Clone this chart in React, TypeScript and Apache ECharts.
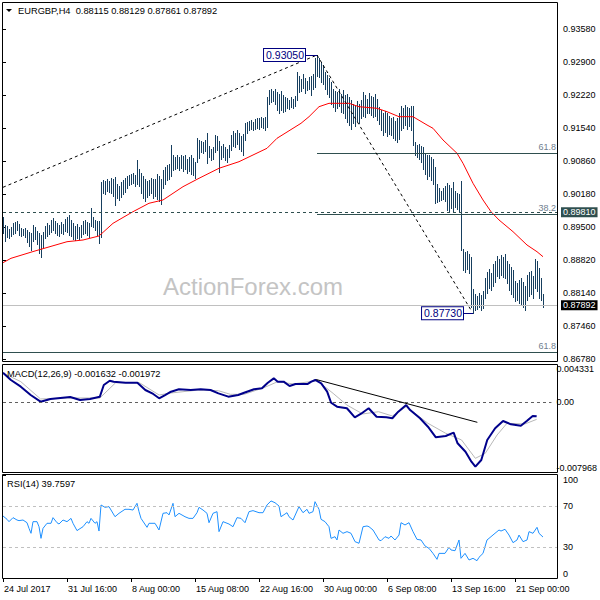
import { useEffect, useRef } from "react";
import * as echarts from "echarts";

const FONT = "'Liberation Sans', Arial, sans-serif";

// ---- price bars (H4), index 0..270 ----
const highs = [
  0.8972, 0.8955, 0.8952, 0.8946, 0.8950, 0.8958, 0.8961, 0.8962, 0.8956, 0.8948,
  0.8946, 0.8949, 0.8944, 0.8940, 0.8938, 0.8954, 0.8950, 0.8942, 0.8938, 0.8934,
  0.8940, 0.8952, 0.8958, 0.8955, 0.8966, 0.8969, 0.8962, 0.8958, 0.8954, 0.8960,
  0.8956, 0.8968, 0.8972, 0.8975, 0.8965, 0.8958, 0.8952, 0.8956, 0.8950, 0.8955,
  0.8962, 0.8966, 0.8960, 0.8958, 0.8990, 0.8972, 0.8966, 0.8964, 0.8962, 0.9044,
  0.9048, 0.9046, 0.9050, 0.9045, 0.9052, 0.9049, 0.9053, 0.9040, 0.9036, 0.9043,
  0.9048, 0.9052, 0.9056, 0.9058, 0.9060, 0.9062, 0.9058, 0.9088, 0.9070, 0.9062,
  0.9055, 0.9050, 0.9045, 0.9048, 0.9052, 0.9049, 0.9050, 0.9060, 0.9055, 0.9050,
  0.9068, 0.9075, 0.9078, 0.9080, 0.9120, 0.9100, 0.9095, 0.9098, 0.9094, 0.9100,
  0.9096, 0.9098, 0.9090, 0.9094, 0.9098, 0.9092, 0.9085, 0.9135, 0.9130, 0.9128,
  0.9126, 0.9130, 0.9145, 0.9118, 0.9112, 0.9115, 0.9140, 0.9138, 0.9128, 0.9118,
  0.9122, 0.9116, 0.9112, 0.9120, 0.9140, 0.9148, 0.9145, 0.9150, 0.9145, 0.9138,
  0.9142, 0.9165, 0.9168, 0.9170, 0.9172, 0.9168, 0.9174, 0.9176, 0.9175, 0.9178,
  0.9176, 0.9178, 0.9218, 0.9232, 0.9236, 0.9230, 0.9234, 0.9228, 0.9225, 0.9230,
  0.9222, 0.9218, 0.9216, 0.9212, 0.9218, 0.9214, 0.9220, 0.9270, 0.9262, 0.9255,
  0.9266, 0.9258, 0.9252, 0.9260, 0.9262, 0.9265, 0.9298, 0.9305, 0.9298, 0.9290,
  0.9285, 0.9270, 0.9264, 0.9258, 0.9250, 0.9235, 0.9230, 0.9228, 0.9236, 0.9225,
  0.9232, 0.9222, 0.9225, 0.9218, 0.9212, 0.9205, 0.9200, 0.9210, 0.9205, 0.9212,
  0.9228, 0.9222, 0.9215, 0.9226, 0.9220, 0.9218, 0.9224, 0.9215, 0.9198, 0.9192,
  0.9185, 0.9190, 0.9186, 0.9180, 0.9175, 0.9178, 0.9170, 0.9176, 0.9185, 0.9200,
  0.9196, 0.9202, 0.9198, 0.9196, 0.9200, 0.9200, 0.9125, 0.9120, 0.9122, 0.9118,
  0.9115, 0.9102, 0.9100, 0.9098, 0.9094, 0.9090, 0.9075, 0.9040, 0.9030, 0.9025,
  0.9030, 0.9035, 0.9042, 0.9038, 0.9030, 0.9044, 0.9025, 0.9020, 0.9018, 0.9045,
  0.8905, 0.8900, 0.8902, 0.8895, 0.8888, 0.8822, 0.8812, 0.8808, 0.8815, 0.8810,
  0.8818, 0.8845, 0.8858, 0.8865, 0.8855, 0.8875, 0.8880, 0.8890, 0.8885, 0.8892,
  0.8888, 0.8894, 0.8880, 0.8875, 0.8868, 0.8862, 0.8840, 0.8835, 0.8842, 0.8845,
  0.8838, 0.8830, 0.8852, 0.8858, 0.8860, 0.8850, 0.8885, 0.8880, 0.8866, 0.8845,
  0.88129,
];
const lows = [
  0.8939, 0.8921, 0.8930, 0.8928, 0.8932, 0.8936, 0.8938, 0.8944, 0.8934, 0.8932,
  0.8934, 0.8931, 0.8920, 0.8912, 0.8903, 0.8922, 0.8925, 0.8915, 0.8898, 0.8889,
  0.8910, 0.8928, 0.8932, 0.8936, 0.8940, 0.8944, 0.8938, 0.8935, 0.8932, 0.8938,
  0.8936, 0.8942, 0.8940, 0.8935, 0.8932, 0.8926, 0.8924, 0.8928, 0.8925, 0.8930,
  0.8936, 0.8938, 0.8934, 0.8930, 0.8952, 0.8950, 0.8944, 0.8935, 0.8918, 0.8930,
  0.9020, 0.9018, 0.9025, 0.9022, 0.9020, 0.9015, 0.8996, 0.9010, 0.9006, 0.9012,
  0.9018, 0.9022, 0.9030, 0.9038, 0.9040, 0.9042, 0.9036, 0.9040, 0.9035, 0.9020,
  0.9010, 0.9005, 0.9012, 0.9016, 0.9020, 0.9010, 0.9015, 0.9008, 0.9005, 0.8998,
  0.9030, 0.9040, 0.9048, 0.9050, 0.9055, 0.9068, 0.9070, 0.9072, 0.9068, 0.9072,
  0.9066, 0.9070, 0.9062, 0.9066, 0.9060, 0.9058, 0.9052, 0.9085, 0.9092, 0.9105,
  0.9104, 0.9108, 0.9082, 0.9095, 0.9088, 0.9090, 0.9105, 0.9110, 0.9064, 0.9090,
  0.9095, 0.9088, 0.9085, 0.9094, 0.9110, 0.9118, 0.9115, 0.9122, 0.9112, 0.9108,
  0.9100, 0.9130, 0.9145, 0.9150, 0.9152, 0.9150, 0.9152, 0.9155, 0.9152, 0.9156,
  0.9155, 0.9150, 0.9156, 0.9205, 0.9208, 0.9210, 0.9204, 0.9192, 0.9185, 0.9192,
  0.9188, 0.9190, 0.9196, 0.9194, 0.9198, 0.9195, 0.9200, 0.9212, 0.9228, 0.9230,
  0.9238, 0.9226, 0.9232, 0.9236, 0.9222, 0.9235, 0.9240, 0.9262, 0.9260, 0.9250,
  0.9245, 0.9235, 0.9225, 0.9218, 0.9205, 0.9198, 0.9190, 0.9195, 0.9200, 0.9188,
  0.9186, 0.9175, 0.9168, 0.9160, 0.9152, 0.9164, 0.9158, 0.9170, 0.9165, 0.9175,
  0.9180, 0.9178, 0.9185, 0.9186, 0.9182, 0.9178, 0.9180, 0.9172, 0.9162, 0.9150,
  0.9140, 0.9146, 0.9138, 0.9142, 0.9140, 0.9135, 0.9130, 0.9125, 0.9132, 0.9150,
  0.9155, 0.9160, 0.9152, 0.9158, 0.9150, 0.9120, 0.9098, 0.9095, 0.9090, 0.9085,
  0.9070, 0.9060, 0.9050, 0.9055, 0.9048, 0.9040, 0.9000, 0.9002, 0.9004, 0.9006,
  0.9008, 0.9004, 0.8985, 0.8984, 0.8990, 0.8984, 0.8992, 0.8988, 0.8982, 0.8903,
  0.8862, 0.8858, 0.8865, 0.8855, 0.8785, 0.8773, 0.8780, 0.8782, 0.8786, 0.8780,
  0.8784, 0.8805, 0.8815, 0.8825, 0.8820, 0.8830, 0.8838, 0.8850, 0.8845, 0.8852,
  0.8848, 0.8845, 0.8835, 0.8820, 0.8812, 0.8806, 0.8798, 0.8800, 0.8795, 0.8792,
  0.8786, 0.8779, 0.8800, 0.8808, 0.8812, 0.8805, 0.8825, 0.8818, 0.8805, 0.8800,
  0.87861,
];

// moving average (red) read at bar indices
const maIdx = [0, 4, 15, 32, 40, 48, 55, 65, 73, 80, 90, 98, 108, 118, 125, 132, 137, 145, 149, 153, 158, 163, 173, 178, 187, 192, 198, 205, 212, 215, 220, 227, 230, 235, 240, 244, 248, 255, 262, 267, 270];
const maVal = [0.88771, 0.88861, 0.89000, 0.89203, 0.89238, 0.89321, 0.89582, 0.89822, 0.89995, 0.90063, 0.90337, 0.90510, 0.90716, 0.90852, 0.90990, 0.91128, 0.91334, 0.91540, 0.91643, 0.91779, 0.91985, 0.92055, 0.92055, 0.91985, 0.91952, 0.91882, 0.91779, 0.91779, 0.91608, 0.91540, 0.91299, 0.91025, 0.90819, 0.90407, 0.90063, 0.89822, 0.89651, 0.89410, 0.89135, 0.88997, 0.88894];

// MACD main line and signal line
const macdIdx = [0, 4, 9, 14, 19, 24, 29, 34, 39, 44, 49, 51, 54, 56, 62, 68, 72, 76, 79, 82, 85, 89, 95, 100, 105, 109, 114, 119, 122, 127, 131, 134, 137, 139, 142, 145, 148, 154, 156, 158, 161, 164, 166, 169, 174, 178, 181, 185, 189, 194, 197, 200, 204, 206, 211, 215, 219, 224, 228, 230, 234, 237, 239, 242, 245, 249, 253, 257, 262, 265, 268, 270];
const macdVal = [0.00334, 0.00251, 0.00175, 0.00080, 0.00004, 0.00035, 0.00046, 0.00057, 0.00023, 0.00035, 0.00061, 0.00194, 0.00243, 0.00232, 0.00220, 0.00220, 0.00137, 0.00092, 0.00043, 0.00080, 0.00118, 0.00145, 0.00137, 0.00145, 0.00137, 0.00099, 0.00061, 0.00080, 0.00106, 0.00145, 0.00156, 0.00220, 0.00270, 0.00232, 0.00232, 0.00183, 0.00205, 0.00205, 0.00232, 0.00251, 0.00213, 0.00118, -0.00008, -0.00053, -0.00071, -0.00174, -0.00136, -0.00071, -0.00167, -0.00174, -0.00185, -0.00110, -0.00034, -0.00091, -0.00185, -0.00281, -0.00402, -0.00387, -0.00349, -0.00470, -0.00566, -0.00680, -0.00736, -0.00660, -0.00432, -0.00299, -0.00216, -0.00254, -0.00270, -0.00216, -0.00159, -0.001632];
const sigIdx = [0, 9, 19, 32, 49, 57, 69, 79, 85, 99, 109, 115, 122, 132, 139, 147, 149, 159, 167, 174, 182, 190, 197, 204, 215, 224, 232, 239, 244, 250, 255, 264, 270];
const sigVal = [0.00331, 0.00232, 0.00035, 0.00046, 0.00046, 0.00220, 0.00220, 0.00080, 0.00103, 0.00137, 0.00129, 0.00088, 0.00088, 0.00163, 0.00232, 0.00205, 0.00213, 0.00243, 0.00099, -0.00034, -0.00136, -0.00110, -0.00159, -0.00053, -0.00242, -0.00356, -0.00432, -0.00641, -0.00584, -0.00375, -0.00242, -0.00250, -0.001972];

// RSI(14)
const rsiIdx = [0, 2, 3, 5, 7, 8, 10, 12, 13, 14, 15, 17, 18, 19, 20, 22, 24, 25, 27, 28, 30, 32, 34, 35, 37, 38, 40, 42, 43, 44, 46, 47, 48, 49, 51, 53, 56, 58, 61, 63, 65, 67, 68, 69, 72, 73, 76, 78, 80, 82, 83, 85, 86, 88, 91, 93, 95, 97, 98, 100, 102, 103, 105, 107, 108, 110, 113, 115, 117, 119, 121, 123, 125, 128, 130, 132, 134, 136, 138, 139, 142, 143, 145, 148, 150, 152, 153, 155, 156, 158, 159, 161, 163, 164, 166, 167, 168, 170, 172, 174, 176, 178, 179, 180, 182, 183, 185, 188, 189, 191, 193, 194, 196, 198, 199, 201, 203, 205, 207, 209, 211, 213, 215, 217, 218, 221, 223, 224, 226, 228, 229, 231, 233, 235, 237, 238, 240, 242, 243, 246, 248, 249, 251, 253, 255, 257, 258, 260, 262, 263, 265, 267, 268, 270];
const rsiVal = [60.2, 57.0, 54.7, 58.6, 56.3, 55.7, 56.3, 53.7, 48.2, 43.4, 54.7, 54.7, 49.8, 38.5, 48.2, 53.1, 53.1, 58.6, 53.7, 52.4, 56.3, 54.7, 57.9, 53.1, 46.0, 47.3, 49.8, 54.7, 53.1, 57.9, 53.1, 54.7, 45.6, 70.9, 68.6, 69.3, 59.5, 62.8, 66.7, 66.7, 66.0, 72.5, 64.4, 57.9, 49.2, 53.1, 53.1, 46.6, 62.8, 63.4, 61.2, 72.5, 59.5, 62.8, 59.5, 57.9, 57.9, 63.4, 68.6, 66.0, 62.8, 53.7, 62.8, 64.4, 45.0, 54.7, 52.4, 49.8, 58.6, 57.9, 53.7, 64.4, 65.4, 63.4, 63.4, 70.9, 74.8, 73.1, 69.9, 59.5, 63.4, 59.5, 56.3, 69.3, 63.4, 66.7, 62.8, 64.4, 74.1, 66.7, 57.0, 54.7, 49.8, 38.5, 40.1, 36.9, 46.6, 43.4, 45.0, 43.4, 35.3, 33.7, 41.7, 49.8, 50.5, 49.8, 46.6, 36.9, 36.2, 40.1, 38.5, 40.8, 36.9, 41.7, 53.7, 51.5, 53.7, 45.0, 37.5, 36.9, 31.1, 28.8, 23.9, 18.1, 23.9, 23.9, 29.8, 27.2, 26.5, 36.9, 19.1, 23.9, 17.5, 19.1, 16.8, 20.1, 23.9, 36.9, 38.5, 43.4, 46.6, 45.6, 47.3, 41.7, 34.3, 36.9, 41.7, 35.3, 36.9, 45.0, 43.4, 49.2, 43.4, 39.76];

// axes
const priceTicks = [0.8678, 0.8746, 0.8814, 0.8882, 0.895, 0.9018, 0.9086, 0.9154, 0.9222, 0.929, 0.9358];
const macdTicks = [-0.007968, 0, 0.004331];
const rsiTicks = [0, 30, 70, 100];
const timeIdx = [0, 32, 64, 96, 128, 160, 192, 224, 256];
const timeLabels = ["24 Jul 2017", "31 Jul 16:00", "8 Aug 00:00", "15 Aug 08:00", "22 Aug 16:00", "30 Aug 00:00", "6 Sep 08:00", "13 Sep 16:00", "21 Sep 00:00"];

// levels / annotations
const swingHigh = 0.9305;
const swingLow = 0.8773;
const swingHighIdx = 157;
const swingLowIdx = 235;
const supportLevel = 0.8981;
const lastPrice = 0.87892;
const fib618 = 0.91018;
const fib382 = 0.89762;
const proj618 = 0.86924;
const trendStart = 0.90324;

const textStyle = { fontFamily: FONT, fontSize: 9, color: "#000" };

function buildOption() {
  const bars = highs.map((h, i) => [i, h, lows[i]]);
  const ma = maIdx.map((x, k) => [x, maVal[k]]);
  const macd = macdIdx.map((x, k) => [x, macdVal[k]]);
  const sig = sigIdx.map((x, k) => [x, sigVal[k]]);
  const rsi = rsiIdx.map((x, k) => [x, rsiVal[k]]);
  const xMax = 277.5;

  const xHidden = {
    type: "value", min: 0, max: xMax,
    splitLine: { show: false }, axisLine: { show: false },
    axisTick: { show: false }, axisLabel: { show: false },
  };
  const yBase = {
    type: "value", position: "right", scale: true,
    splitLine: { show: false }, axisLine: { show: false },
  };
  const axisLabelBase = { ...textStyle, margin: 5 };
  const slate = "#2f4f4f";
  const fibLabel = (t: string) => ({ show: true, position: "insideEndTop", formatter: t, color: "#708090", fontFamily: FONT, fontSize: 9, distance: 2 });
  const boxLabel = (t: string, bg: string) => ({ show: true, position: "end", formatter: t, color: "#fff", backgroundColor: bg, padding: [1, 2, 0, 2], distance: 3, fontFamily: FONT, fontSize: 9 });
  const swingLabel = (t: string) => ({ show: true, position: "start", formatter: t, color: "#000080", backgroundColor: "#fff", borderColor: "#000080", borderWidth: 1, padding: [1, 1, 0, 2], distance: 0, fontFamily: FONT, fontSize: 10.5 });

  return {
    animation: false,
    backgroundColor: "#fff",
    grid: [
      { left: 3, top: 3, width: 555, height: 359 },
      { left: 3, top: 364, width: 555, height: 108 },
      { left: 3, top: 475, width: 555, height: 103 },
    ],
    xAxis: [
      { ...xHidden, gridIndex: 0 },
      { ...xHidden, gridIndex: 1 },
      {
        ...xHidden, gridIndex: 2,
        axisTick: { show: true, customValues: timeIdx, length: 4, lineStyle: { color: "#000" } },
        axisLabel: {
          show: true, customValues: timeIdx, ...textStyle, margin: 6, align: "left", padding: [0, 0, 0, 1],
          formatter: (v: number) => timeLabels[timeIdx.indexOf(v)] ?? "",
        },
      },
    ],
    yAxis: [
      {
        ...yBase, gridIndex: 0, min: 0.867244, max: 0.941219,
        axisTick: { show: true, customValues: priceTicks, length: 3, lineStyle: { color: "#000" } },
        axisLabel: { ...axisLabelBase, customValues: priceTicks, formatter: (v: number) => v.toFixed(5) },
      },
      {
        ...yBase, gridIndex: 1, min: -0.007968, max: 0.004331,
        axisTick: { show: true, customValues: macdTicks, length: 3, lineStyle: { color: "#000" } },
        axisLabel: {
          ...axisLabelBase, customValues: macdTicks,
          verticalAlignMinLabel: "bottom", verticalAlignMaxLabel: "top",
          formatter: (v: number) => (v === 0 ? "0.00" : v.toFixed(6)),
        },
      },
      {
        ...yBase, gridIndex: 2, min: 0, max: 100,
        axisTick: { show: true, customValues: rsiTicks, length: 3, lineStyle: { color: "#000" } },
        axisLabel: {
          ...axisLabelBase, customValues: rsiTicks,
          verticalAlignMinLabel: "bottom", verticalAlignMaxLabel: "top",
          formatter: (v: number) => String(v),
        },
      },
    ],
    series: [
      {
        type: "custom", name: "bars", xAxisIndex: 0, yAxisIndex: 0,
        data: bars, encode: { x: 0, y: [1, 2] }, silent: true,
        renderItem: (_p: any, api: any) => {
          const a = api.coord([api.value(0), api.value(1)]);
          const b = api.coord([api.value(0), api.value(2)]);
          const px = Math.round(a[0]) + 0.5;
          return { type: "line", shape: { x1: px, y1: Math.round(a[1]), x2: px, y2: Math.round(b[1]) + 1 }, style: { stroke: "#173f5f", lineWidth: 1 } };
        },
        z: 2,
      },
      {
        type: "line", name: "MA", xAxisIndex: 0, yAxisIndex: 0, data: ma,
        symbol: "none", silent: true, lineStyle: { color: "#ff0000", width: 1 }, z: 3,
        markLine: {
          silent: true, symbol: ["none", "none"], precision: 6, label: { show: false },
          data: [
            { yAxis: supportLevel, lineStyle: { color: slate, type: [3, 3], width: 1 }, label: boxLabel("0.89810", slate) },
            { yAxis: lastPrice, lineStyle: { color: "#c0c0c0", type: "solid", width: 1 }, label: boxLabel("0.87892", "#000") },
            { yAxis: proj618, lineStyle: { color: slate, type: "solid", width: 1 }, label: fibLabel("61.8") },
            [{ coord: [swingHighIdx, fib618], lineStyle: { color: slate, type: "solid", width: 1 }, label: fibLabel("61.8") }, { coord: [xMax, fib618] }],
            [{ coord: [swingHighIdx, fib382], lineStyle: { color: slate, type: "solid", width: 1 }, label: fibLabel("38.2") }, { coord: [xMax, fib382] }],
            [{ coord: [0, trendStart], lineStyle: { color: "#000", type: [3, 3], width: 1 } }, { coord: [swingHighIdx, swingHigh] }],
            [{ coord: [swingHighIdx, swingHigh], lineStyle: { color: "#000", type: [3, 3], width: 1 } }, { coord: [swingLowIdx - 0.5, 0.8776] }],
            [{ coord: [151, swingHigh], lineStyle: { color: "#000080", type: "solid", width: 1 }, label: swingLabel("0.93050") }, { coord: [swingHighIdx, swingHigh] }],
            [{ coord: [230, swingLow], lineStyle: { color: "#000080", type: "solid", width: 1 }, label: swingLabel("0.87730") }, { coord: [swingLowIdx, swingLow] }],
          ],
        },
      },
      {
        type: "line", name: "Signal", xAxisIndex: 1, yAxisIndex: 1, data: sig,
        symbol: "none", silent: true, lineStyle: { color: "#b8b8b8", width: 1 }, z: 2,
        markLine: {
          silent: true, symbol: ["none", "none"], precision: 6, label: { show: false },
          data: [
            { yAxis: 0, lineStyle: { color: "#606060", type: [3, 3], width: 1 } },
            [{ coord: [158.5, 0.00256], lineStyle: { color: "#000", type: "solid", width: 1 } }, { coord: [240, -0.00231] }],
          ],
        },
      },
      {
        type: "line", name: "MACD", xAxisIndex: 1, yAxisIndex: 1, data: macd,
        symbol: "none", silent: true, lineStyle: { color: "#00008b", width: 2 }, z: 3,
      },
      {
        type: "line", name: "RSI", xAxisIndex: 2, yAxisIndex: 2, data: rsi,
        symbol: "none", silent: true, lineStyle: { color: "#1e90ff", width: 1 }, z: 3,
        markLine: {
          silent: true, symbol: ["none", "none"], precision: 6, label: { show: false },
          data: [
            { yAxis: 70, lineStyle: { color: "#c0c0c0", type: [3, 3], width: 1 } },
            { yAxis: 30, lineStyle: { color: "#c0c0c0", type: [3, 3], width: 1 } },
          ],
        },
      },
    ],
    graphic: [
      { type: "text", x: 163, y: 286, z: 0, style: { text: "ActionForex.com", fill: "#c4c4c4", fontFamily: FONT, fontSize: 24, verticalAlign: "middle" } },
      { type: "rect", z: 100, shape: { x: 2.5, y: 2.5, width: 555, height: 359 }, style: { fill: "none", stroke: "#000", lineWidth: 1 } },
      { type: "rect", z: 100, shape: { x: 2.5, y: 364.5, width: 555, height: 108 }, style: { fill: "none", stroke: "#000", lineWidth: 1 } },
      { type: "rect", z: 100, shape: { x: 2.5, y: 474.5, width: 555, height: 104 }, style: { fill: "none", stroke: "#000", lineWidth: 1 } },
      { type: "polygon", z: 100, shape: { points: [[6, 9], [12, 9], [9, 12]] }, style: { fill: "#000" } },
      { type: "text", x: 18, y: 11, z: 100, style: { text: "EURGBP,H4  0.88115 0.88129 0.87861 0.87892", fill: "#000", fontFamily: FONT, fontSize: 9.3, verticalAlign: "middle" } },
      { type: "text", x: 7, y: 374, z: 100, style: { text: "MACD(12,26,9) -0.001632 -0.001972", fill: "#000", fontFamily: FONT, fontSize: 9.3, verticalAlign: "middle" } },
      { type: "text", x: 7, y: 484, z: 100, style: { text: "RSI(14) 39.7597", fill: "#000", fontFamily: FONT, fontSize: 9.3, verticalAlign: "middle" } },
    ],
  };
}

export default function App() {
  const ref = useRef<HTMLDivElement>(null);
  useEffect(() => {
    if (!ref.current) return;
    const chart = echarts.init(ref.current, null, { renderer: "svg" });
    chart.setOption(buildOption() as any);
    return () => chart.dispose();
  }, []);
  return <div ref={ref} style={{ position: "fixed", left: 0, top: 0, width: 600, height: 600, background: "#fff" }} />;
}
